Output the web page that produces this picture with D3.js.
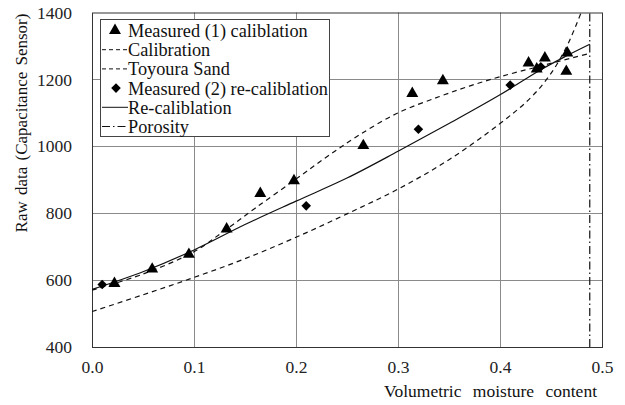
<!DOCTYPE html>
<html lang="en">
<head>
<meta charset="UTF-8">
<title>Raw data vs volumetric moisture content</title>
<script src="https://cdn.jsdelivr.net/npm/d3@7"></script>
<style>
  body { margin: 0; background: #fff; }
  svg text { font-family: "Liberation Serif", "Times New Roman", serif; }
</style>
</head>
<body>
<script>
// Measured (1) calibration points
const m1X = [0.022, 0.059, 0.095, 0.132, 0.165, 0.198, 0.266, 0.314, 0.344, 0.428, 0.436, 0.444, 0.465, 0.466];
const m1Y = [590, 633, 677, 753, 859, 897, 1002, 1158, 1196, 1249, 1231, 1264, 1224, 1279];

// Measured (2) re-calibration points
const m2X = [0.010, 0.210, 0.320, 0.410, 0.440];
const m2Y = [587, 822, 1051, 1183, 1238];

// Calibration curve (upper dashed)
const calX = [0, 0.05, 0.1, 0.13, 0.16, 0.2, 0.23, 0.26, 0.3, 0.34, 0.37, 0.4, 0.44, 0.488];
const calY = [570, 618, 685, 748, 815, 902, 968, 1030, 1100, 1148, 1180, 1208, 1240, 1278];

// Toyoura Sand curve (lower dashed)
const toyX = [0, 0.05, 0.1, 0.15, 0.2, 0.25, 0.3, 0.35, 0.4, 0.43, 0.45, 0.465, 0.475, 0.482];
const toyY = [506, 556, 608, 664, 728, 798, 872, 960, 1068, 1145, 1218, 1296, 1365, 1420];

// Re-calibration curve (solid)
const recX = [0, 0.05, 0.1, 0.15, 0.2, 0.25, 0.3, 0.35, 0.4, 0.44, 0.465, 0.488];
const recY = [572, 625, 690, 766, 836, 905, 985, 1068, 1154, 1229, 1270, 1305];

const porosity = 0.488;

const xTicks = [0, 0.1, 0.2, 0.3, 0.4, 0.5];
const yTicks = [400, 600, 800, 1000, 1200, 1400];

const legendLabels = ["Measured (1) caliblation", "Calibration", "Toyoura Sand",
                      "Measured (2) re-caliblation", "Re-caliblation", "Porosity"];

const w = 625, h = 405;
const svg = d3.select("body").append("svg").attr("width", w).attr("height", h);

const x = d3.scaleLinear().domain([0, 0.5]).range([92, 602]);
const y = d3.scaleLinear().domain([400, 1400]).range([347, 12.5]);

// grid
svg.append("g").selectAll("line").data(xTicks.slice(1, -1)).join("line")
  .attr("x1", d => Math.round(x(d)) + 0.5).attr("x2", d => Math.round(x(d)) + 0.5)
  .attr("y1", y(400)).attr("y2", y(1400))
  .attr("stroke", "#8a8a8a");
svg.append("g").selectAll("line").data(yTicks.slice(1, -1)).join("line")
  .attr("y1", d => Math.round(y(d)) + 0.5).attr("y2", d => Math.round(y(d)) + 0.5)
  .attr("x1", x(0)).attr("x2", x(0.5))
  .attr("stroke", "#8a8a8a");

// axes (labels only)
const xAxis = svg.append("g").attr("transform", `translate(0,${y(400)})`)
  .call(d3.axisBottom(x).tickValues(xTicks).tickFormat(d3.format(".1f")).tickSize(0).tickPadding(14));
const yAxis = svg.append("g").attr("transform", `translate(${x(0)},0)`)
  .call(d3.axisLeft(y).tickValues(yTicks).tickFormat(d3.format("d")).tickSize(0).tickPadding(20));
[xAxis, yAxis].forEach(a => {
  a.attr("font-family", null).attr("font-size", null);
  a.select(".domain").remove();
  a.selectAll("text").attr("font-size", 17.5).attr("fill", "#222");
});

// frame
svg.append("rect")
  .attr("x", x(0) + 0.5).attr("y", y(1400) + 0.5)
  .attr("width", x(0.5) - x(0)).attr("height", y(400) - y(1400))
  .attr("fill", "none").attr("stroke", "#333");

svg.append("clipPath").attr("id", "plot")
  .append("rect").attr("x", x(0)).attr("y", y(1400))
  .attr("width", x(0.5) - x(0)).attr("height", y(400) - y(1400));

const line = d3.line().x(d => x(d[0])).y(d => y(d[1])).curve(d3.curveCatmullRom);
const curves = svg.append("g").attr("clip-path", "url(#plot)");

curves.append("path").datum(d3.zip(calX, calY)).attr("d", line)
  .attr("fill", "none").attr("stroke", "#111").attr("stroke-width", 1.2).attr("stroke-dasharray", "5,4");
curves.append("path").datum(d3.zip(toyX, toyY)).attr("d", line)
  .attr("fill", "none").attr("stroke", "#111").attr("stroke-width", 1.2).attr("stroke-dasharray", "5,4");
curves.append("path").datum(d3.zip(recX, recY)).attr("d", line)
  .attr("fill", "none").attr("stroke", "#111").attr("stroke-width", 1.2);
curves.append("line")
  .attr("x1", x(porosity)).attr("x2", x(porosity)).attr("y1", y(400)).attr("y2", y(1400))
  .attr("stroke", "#111").attr("stroke-width", 1.2).attr("stroke-dasharray", "8,3,1.5,3");

// points
const tri = d3.symbol().type(d3.symbolTriangle).size(62);
const dia = d3.symbol().type(d3.symbolSquare).size(46);
svg.append("g").selectAll("path").data(d3.zip(m1X, m1Y)).join("path")
  .attr("d", tri).attr("fill", "#000")
  .attr("transform", d => `translate(${x(d[0])},${y(d[1])})`);
svg.append("g").selectAll("path").data(d3.zip(m2X, m2Y)).join("path")
  .attr("d", dia).attr("fill", "#000")
  .attr("transform", d => `translate(${x(d[0])},${y(d[1])}) rotate(45)`);

// legend
const lg = svg.append("g");
lg.append("rect").attr("x", 100.5).attr("y", 19.5).attr("width", 229).attr("height", 117)
  .attr("fill", "#fff").attr("stroke", "#444");
const rowY = i => 30.5 + i * 19.2;
lg.selectAll("text").data(legendLabels).join("text")
  .attr("x", 128).attr("y", (d, i) => rowY(i)).attr("dy", "0.35em")
  .attr("font-size", 18.3).attr("fill", "#111").text(d => d);
lg.append("path").attr("d", tri).attr("transform", `translate(115,${rowY(0)})`);
lg.append("path").attr("d", dia).attr("transform", `translate(116,${rowY(3)}) rotate(45)`);
[1, 2].forEach(i => lg.append("line").attr("x1", 102).attr("x2", 128)
  .attr("y1", rowY(i)).attr("y2", rowY(i)).attr("stroke", "#111").attr("stroke-dasharray", "4,3"));
lg.append("line").attr("x1", 102).attr("x2", 128).attr("y1", rowY(4)).attr("y2", rowY(4)).attr("stroke", "#111");
lg.append("line").attr("x1", 102).attr("x2", 128).attr("y1", rowY(5)).attr("y2", rowY(5))
  .attr("stroke", "#111").attr("stroke-dasharray", "8,3,1.5,3");

// axis titles
svg.append("text").attr("x", 597).attr("y", 397).attr("text-anchor", "end")
  .attr("font-size", 17.5).attr("fill", "#111").attr("word-spacing", "7px")
  .text("Volumetric moisture content");
svg.append("text").attr("transform", "translate(27,123) rotate(-90)").attr("text-anchor", "middle")
  .attr("font-size", 17).attr("fill", "#111").attr("word-spacing", "2px")
  .text("Raw data (Capacitance Sensor)");
</script>
</body>
</html>
